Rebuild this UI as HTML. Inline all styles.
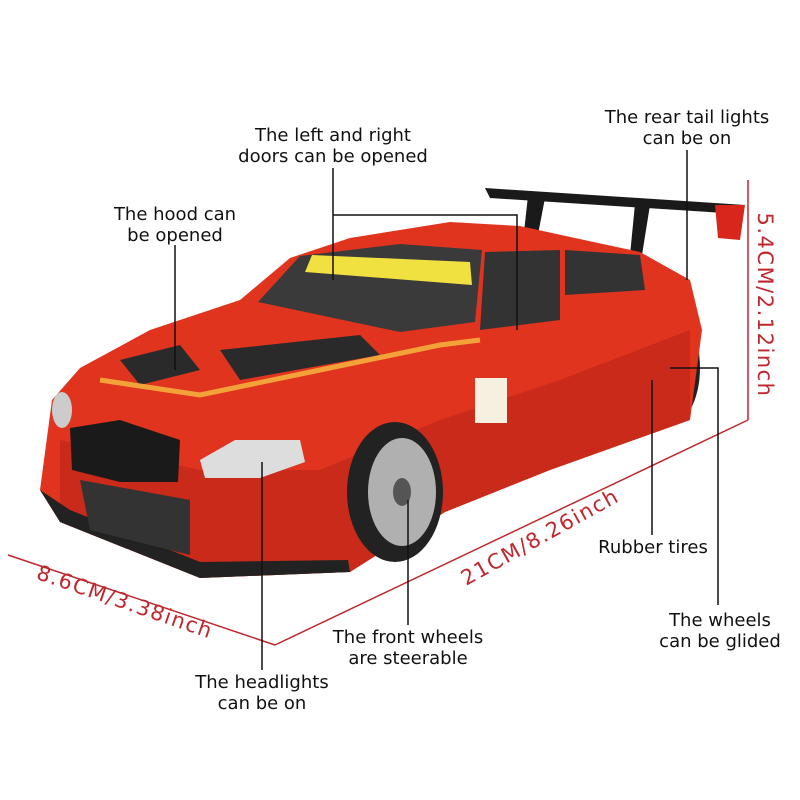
<!DOCTYPE html>
<html><head><meta charset="utf-8"><style>
html,body{margin:0;padding:0;background:#fff;}
.w{position:relative;width:800px;height:800px;overflow:hidden;font-family:"DejaVu Sans","Liberation Sans",sans-serif;}
.t{position:absolute;font-size:18px;color:#111;text-align:center;line-height:21px;white-space:nowrap;}
.r{position:absolute;font-size:21px;color:#c0272d;white-space:nowrap;letter-spacing:1.5px;transform-origin:center center;}
</style></head><body><div class="w">
<svg width="800" height="800" style="position:absolute;left:0;top:0">
<g stroke="#c0272d" stroke-width="1.5" fill="none">
<line x1="748" y1="180" x2="748" y2="420"/>
<line x1="748" y1="420" x2="275" y2="645"/>
<line x1="8" y1="555" x2="275" y2="645"/>
</g>
<polygon points="485,188 745,205 740,214 490,198" fill="#1a1a1a"/>
<polygon points="528,196 545,198 535,250 522,250" fill="#1a1a1a"/>
<polygon points="635,204 650,205 642,255 630,255" fill="#1a1a1a"/>
<polygon points="715,205 745,205 740,240 718,238" fill="#d9261c"/>
<ellipse cx="668" cy="368" rx="32" ry="58" fill="#222"/>
<ellipse cx="672" cy="368" rx="20" ry="42" fill="#aaa"/>
<polygon points="40,490 52,400 80,368 150,330 240,300 290,258 350,238 450,222 520,226 575,238 640,252 690,280 702,330 690,420 550,470 445,512 350,572 200,578 60,522" fill="#e0341f"/>
<polygon points="60,440 200,470 320,470 440,420 560,380 690,330 690,420 550,470 445,512 350,572 200,578 60,522" fill="#c92a1a"/>
<polygon points="258,302 300,256 400,244 482,250 475,322 400,332" fill="#3a3a3a"/>
<polygon points="312,255 470,262 472,285 305,272" fill="#f0e040"/>
<polygon points="485,252 560,250 560,320 480,330" fill="#333"/>
<polygon points="565,250 640,255 645,290 565,295" fill="#333"/>
<polygon points="120,360 180,345 200,370 140,385" fill="#2a2a2a"/>
<polygon points="220,350 360,335 380,355 240,380" fill="#2a2a2a"/>
<polyline points="100,380 200,395 320,370 440,345 480,340" stroke="#f3a23a" stroke-width="5" fill="none"/>
<rect x="475" y="378" width="32" height="45" fill="#f5f0e0"/>
<polygon points="70,428 120,420 180,440 178,482 120,482 72,470" fill="#1a1a1a"/>
<polygon points="40,490 60,522 200,578 350,572 348,560 200,562 70,510" fill="#222"/>
<polygon points="80,480 190,500 190,555 90,530" fill="#333"/>
<polygon points="200,460 235,440 300,440 305,462 260,478 205,478" fill="#ddd"/>
<ellipse cx="62" cy="410" rx="10" ry="18" fill="#ccc"/>
<ellipse cx="395" cy="492" rx="48" ry="70" fill="#222"/>
<ellipse cx="402" cy="492" rx="34" ry="54" fill="#b0b0b0"/>
<ellipse cx="402" cy="492" rx="9" ry="14" fill="#555"/>
<g stroke="#111" stroke-width="1.5" fill="none">
<line x1="333" y1="168" x2="333" y2="280"/>
<polyline points="333,215 517,215 517,330"/>
<line x1="175" y1="245" x2="175" y2="370"/>
<line x1="687" y1="150" x2="687" y2="280"/>
<line x1="652" y1="380" x2="652" y2="535"/>
<polyline points="670,368 718,368 718,605"/>
<line x1="408" y1="500" x2="408" y2="625"/>
<line x1="262" y1="462" x2="262" y2="670"/>
</g>
</svg>
<div class="t" style="left:233px;top:125px;width:200px">The left and right<br>doors can be opened</div>
<div class="t" style="left:587px;top:107px;width:200px">The rear tail lights<br>can be on</div>
<div class="t" style="left:75px;top:204px;width:200px">The hood can<br>be opened</div>
<div class="t" style="left:588px;top:537px;width:130px">Rubber tires</div>
<div class="t" style="left:630px;top:610px;width:180px">The wheels<br>can be glided</div>
<div class="t" style="left:308px;top:627px;width:200px">The front wheels<br>are steerable</div>
<div class="t" style="left:162px;top:672px;width:200px">The headlights<br>can be on</div>
<div class="r" style="left:5px;top:590px;width:240px;text-align:center;transform:rotate(19deg)">8.6CM/3.38inch</div>
<div class="r" style="left:420px;top:525px;width:240px;text-align:center;transform:rotate(-29deg)">21CM/8.26inch</div>
<div class="r" style="left:645px;top:293px;width:240px;text-align:center;transform:rotate(90deg)">5.4CM/2.12inch</div>
</div></body></html>
